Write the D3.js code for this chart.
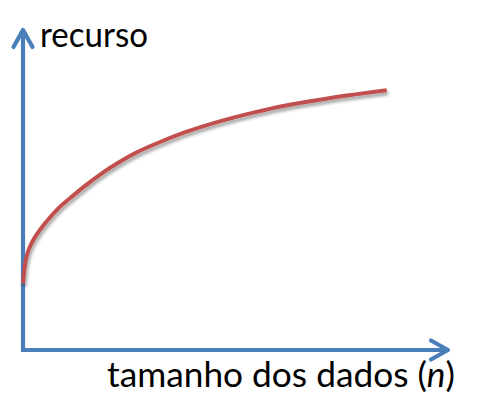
<!DOCTYPE html>
<html>
<head>
<meta charset="utf-8">
<script src="https://cdn.jsdelivr.net/npm/d3@7"></script>
<style>
  html, body { margin: 0; padding: 0; background: #ffffff; }
  svg { display: block; }
</style>
</head>
<body>
<script>
// Data (arbitrary units: n in 0..100, recurso in 0..100)
const nValues       = [0, 0.4, 1.17, 2.74, 5.08, 8.2, 11.0, 14.9, 18.8, 22.7, 26.6, 31.7, 37.5, 45.4, 54.7, 61.0, 68.8, 76.6, 85.2];
const recursoValues = [20.7, 26.9, 31.1, 35.2, 39.3, 44.1, 47.2, 51.4, 55.3, 58.5, 61.5, 64.4, 67.5, 70.9, 74.0, 75.9, 77.6, 79.2, 80.7];
const xAxisLabel = ["tamanho dos dados (", "n", ")"];
const yAxisLabel = "recurso";

const W = 482, H = 411;
const svg = d3.select("body").append("svg").attr("width", W).attr("height", H);

const x = d3.scaleLinear().domain([0, 100]).range([23, 450]);
const y = d3.scaleLinear().domain([0, 100]).range([350, 28]);

const blue = "#4a7ebb", red = "#c0504d";

// shadow filter
const defs = svg.append("defs");
const f = defs.append("filter").attr("id", "shadow").attr("x", "-10%").attr("y", "-10%").attr("width", "130%").attr("height", "140%");
f.append("feDropShadow").attr("dx", 1.5).attr("dy", 3).attr("stdDeviation", 1.8)
  .attr("flood-color", "#000").attr("flood-opacity", 0.35);

// Axes
const axes = svg.append("g").attr("fill", "none").attr("stroke", blue).attr("stroke-width", 4.2);
// vertical axis
axes.append("line").attr("x1", x(0)).attr("x2", x(0)).attr("y1", y(0) + 2).attr("y2", y(100) + 2);
axes.append("path")
  .attr("d", d3.line()([[x(0) - 9.5, y(100) + 19], [x(0), y(100) + 2], [x(0) + 9.5, y(100) + 19]]))
  .attr("stroke-linejoin", "round").attr("stroke-linecap", "round");
// horizontal axis
axes.append("line").attr("x1", x(0) - 2).attr("x2", x(100) - 2).attr("y1", y(0)).attr("y2", y(0));
axes.append("path")
  .attr("d", d3.line()([[x(100) - 19, y(0) - 9.5], [x(100) - 2, y(0)], [x(100) - 19, y(0) + 9.5]]))
  .attr("stroke-linejoin", "round").attr("stroke-linecap", "round");

// Curve
const data = nValues.map((n, i) => [n, recursoValues[i]]);
svg.append("path")
  .datum(data)
  .attr("fill", "none")
  .attr("stroke", red)
  .attr("stroke-width", 4)
  .attr("filter", "url(#shadow)")
  .attr("d", d3.line().x(d => x(d[0])).y(d => y(d[1])).curve(d3.curveBasis));

// Labels
const font = "Lato, 'Open Sans', sans-serif";
svg.append("text")
  .attr("x", 40).attr("y", 47)
  .attr("font-family", font).attr("font-size", 34).attr("fill", "#000")
  .attr("textLength", 108).attr("lengthAdjust", "spacingAndGlyphs")
  .text(yAxisLabel);

const t = svg.append("text")
  .attr("x", 107).attr("y", 387)
  .attr("font-family", font).attr("font-size", 34).attr("fill", "#000")
  .attr("textLength", 348).attr("lengthAdjust", "spacingAndGlyphs");
t.append("tspan").text(xAxisLabel[0]);
t.append("tspan").attr("font-style", "italic").text(xAxisLabel[1]);
t.append("tspan").text(xAxisLabel[2]);
</script>
</body>
</html>
